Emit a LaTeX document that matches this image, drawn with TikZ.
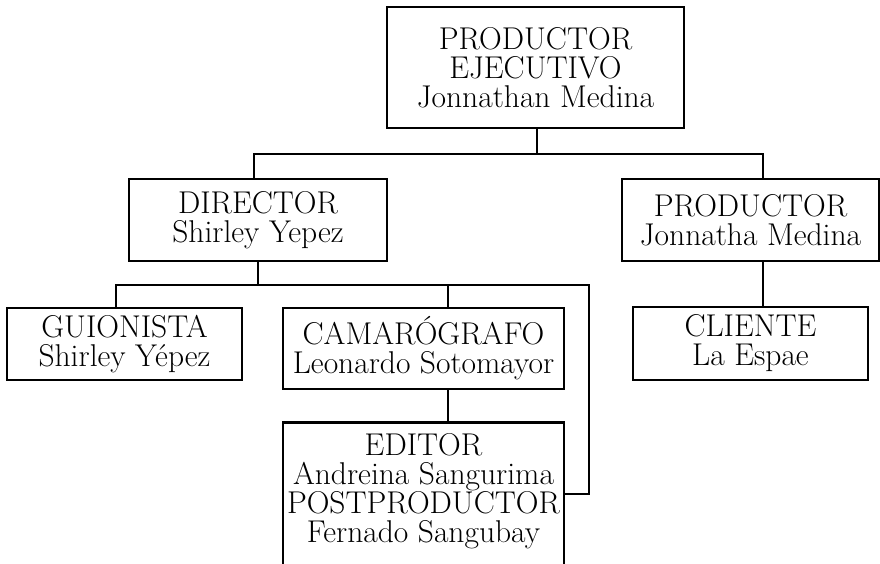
\documentclass[tikz,border=0pt]{standalone}
\begin{document}
\begin{tikzpicture}[x=1pt,y=-1pt,
  box/.style={draw, line width=2.5pt, inner sep=0pt, align=center,
    font=\fontsize{31.5}{29}\selectfont},
  txt/.style={inner sep=0pt, align=center, font=\fontsize{31.5}{29}\selectfont},
  link/.style={line width=2.5pt}]
\useasboundingbox (0,0) rectangle (880,564);
\clip (0,0) rectangle (880,564);
\node[box, minimum width=297pt, minimum height=121pt] (pe) at (535.5,67.5) {PRODUCTOR\\EJECUTIVO\\Jonnathan Medina};
\node[box, minimum width=258pt, minimum height=82pt] (dir) at (258,220) {DIRECTOR\\Shirley Yepez};
\node[box, minimum width=257pt, minimum height=82pt] (prod) at (750.5,220) {PRODUCTOR\\Jonnatha Medina};
\node[box, minimum width=235pt, minimum height=72pt] (gui) at (124.5,344) {GUIONISTA\\Shirley Yépez};
\node[box, minimum width=281pt, minimum height=81pt] (cam) at (423.5,348.5) {CAMARÓGRAFO\\Leonardo Sotomayor};
\node[box, minimum width=235pt, minimum height=73pt] (cli) at (750.5,343.5) {CLIENTE\\La Espae};
\node[box, minimum width=281pt, minimum height=180pt, anchor=north] (ed) at (423.5,421) {};
\node[txt, anchor=north] (edt) at ([yshift=-12pt]ed.north) {EDITOR\\Andreina Sangurima\\POSTPRODUCTOR\\Fernado Sangubay};
% connectors
\coordinate (j1) at (537,154);
\coordinate (j2) at (258,285);
\coordinate (j3) at (589,494);
\draw[link] (pe.south -| j1) -- (j1);
\draw[link] ([xshift=-4pt]dir.north) |- (j1) -| ([xshift=12.5pt]prod.north);
\draw[link] ([xshift=12.5pt]prod.south) -- ([xshift=12.5pt]cli.north);
\draw[link] (dir.south) -- (j2);
\draw[link] ([xshift=-8.5pt]gui.north) |- (j2) -| (j3) -- (ed.east |- j3);
\draw[link] ([xshift=24.5pt]cam.north) -- ([xshift=24.5pt]cam.north |- j2);
\draw[link] ([xshift=24.5pt]cam.south) -- ([xshift=24.5pt]ed.north);
\end{tikzpicture}
\end{document}
